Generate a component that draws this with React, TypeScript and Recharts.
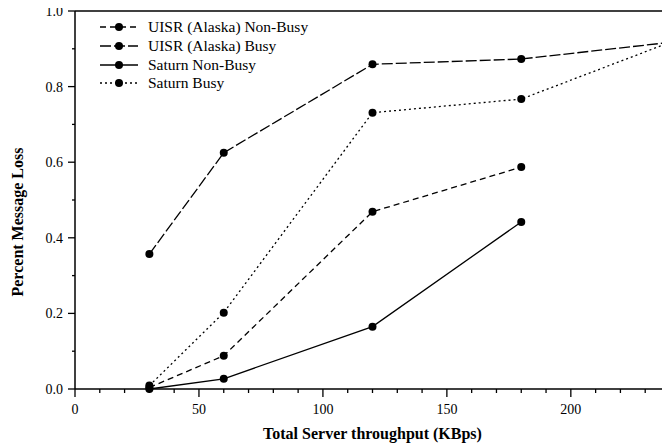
import React from "react";
import { LineChart, Line, XAxis, YAxis, ReferenceLine, Legend } from "recharts";

const throughput = [30, 60, 120, 180, 240];
const uisrNonBusy = [0.004, 0.088, 0.469, 0.587, null];
const uisrBusy = [0.357, 0.625, 0.859, 0.873, 0.917];
const saturnNonBusy = [0.0, 0.027, 0.165, 0.442, null];
const saturnBusy = [0.009, 0.202, 0.731, 0.767, 0.917];

const xTicks = [0, 10, 20, 30, 40, 50, 60, 70, 80, 90, 100, 110, 120, 130, 140, 150, 160, 170, 180, 190, 200, 210, 220, 230, 240];
const xMajor = [0, 50, 100, 150, 200];
const yTicks = [0, 0.1, 0.2, 0.3, 0.4, 0.5, 0.6, 0.7, 0.8, 0.9, 1.0];
const yMajor = [0, 0.2, 0.4, 0.6, 0.8, 1.0];

const seriesNames = ["UISR (Alaska) Non-Busy", "UISR (Alaska) Busy", "Saturn Non-Busy", "Saturn Busy"];
const seriesKeys = ["uisrNonBusy", "uisrBusy", "saturnNonBusy", "saturnBusy"];
const seriesDash = ["6 4", "11 3", "", "2 3"];

const data = throughput.map((x, i) => ({
  x,
  uisrNonBusy: uisrNonBusy[i],
  uisrBusy: uisrBusy[i],
  saturnNonBusy: saturnNonBusy[i],
  saturnBusy: saturnBusy[i],
}));

const FONT = "'Liberation Serif', 'Times New Roman', serif";

const XTick = (props: any) => {
  const { x, y, payload } = props;
  const major = xMajor.some((m) => Math.abs(m - payload.value) < 1e-6);
  return (
    <g>
      <line x1={x} y1={y} x2={x} y2={y + (major ? 8 : 4)} stroke="#000" strokeWidth={1.3} />
      {major && (
        <text x={x} y={y + 25} textAnchor="middle" fontFamily={FONT} fontSize={14} fill="#000">
          {payload.value}
        </text>
      )}
    </g>
  );
};

const YTick = (props: any) => {
  const { x, y, payload } = props;
  const major = yMajor.some((m) => Math.abs(m - payload.value) < 1e-6);
  return (
    <g>
      <line x1={x - (major ? 7 : 3)} y1={y} x2={x} y2={y} stroke="#000" strokeWidth={1.3} />
      {major && (
        <text x={x - 12} y={y + 5} textAnchor="end" fontFamily={FONT} fontSize={14} fill="#000">
          {Number(payload.value).toFixed(1)}
        </text>
      )}
    </g>
  );
};

const LegendContent = () => (
  <div style={{ fontFamily: FONT, fontSize: 15.5, color: "#000" }}>
    {seriesNames.map((name, i) => (
      <div key={name} style={{ display: "flex", alignItems: "center", height: 18.7 }}>
        <svg width={40} height={12} style={{ marginRight: 9 }}>
          <line x1={1} y1={6} x2={39} y2={6} stroke="#000" strokeWidth={1.3} strokeDasharray={seriesDash[i]} />
          <circle cx={20} cy={6} r={4} fill="#000" />
        </svg>
        <span>{name}</span>
      </div>
    ))}
  </div>
);

const YLabel = (props: any) => {
  const vb = props.viewBox || {};
  const cx = 15;
  const cy = vb.y + vb.height / 2 + 22;
  return (
    <text
      x={cx}
      y={cy}
      transform={`rotate(-90, ${cx}, ${cy})`}
      textAnchor="middle"
      fontFamily={FONT}
      fontWeight="bold"
      fontSize={16}
      fill="#000"
    >
      Percent Message Loss
    </text>
  );
};

const XLabel = (props: any) => {
  const vb = props.viewBox || {};
  const cx = vb.x + vb.width / 2;
  return (
    <text x={cx} y={431} textAnchor="middle" fontFamily={FONT} fontWeight="bold" fontSize={16} fill="#000">
      Total Server throughput (KBps)
    </text>
  );
};

export default function App() {
  return (
    <div>
      <style>{`.recharts-surface { overflow: visible; }`}</style>
      <LineChart
        width={662}
        height={436}
        data={data}
        margin={{ top: 3, right: 0, left: 7, bottom: 15 }}
        style={{ fontFamily: FONT }}
      >
        <XAxis
          dataKey="x"
          type="number"
          domain={[0, 240]}
          ticks={xTicks}
          interval={0}
          tickSize={0}
          tickMargin={0}
          tickLine={false}
          tick={<XTick />}
          axisLine={{ stroke: "#000", strokeWidth: 1.5 }}
          height={40}
          label={<XLabel />}
        />
        <YAxis
          type="number"
          domain={[0, 1]}
          ticks={yTicks}
          interval={0}
          tickSize={0}
          tickMargin={0}
          tickLine={false}
          tick={<YTick />}
          axisLine={{ stroke: "#000", strokeWidth: 1.5 }}
          width={60}
          label={<YLabel />}
        />
        <ReferenceLine y={1} stroke="#000" strokeWidth={1.5} ifOverflow="visible" />
        <Legend
          layout="vertical"
          align="center"
          verticalAlign="middle"
          wrapperStyle={{ position: "absolute", left: 91, top: 10, width: "auto" }}
          content={<LegendContent />}
        />
        {seriesKeys.map((k, i) => (
          <Line
            key={k}
            dataKey={k}
            name={seriesNames[i]}
            stroke="#000"
            strokeWidth={1.3}
            strokeDasharray={seriesDash[i] || undefined}
            dot={{ r: 4, fill: "#000", stroke: "#000", strokeWidth: 0 }}
            activeDot={false}
            isAnimationActive={false}
            connectNulls={false}
          />
        ))}
      </LineChart>
    </div>
  );
}
